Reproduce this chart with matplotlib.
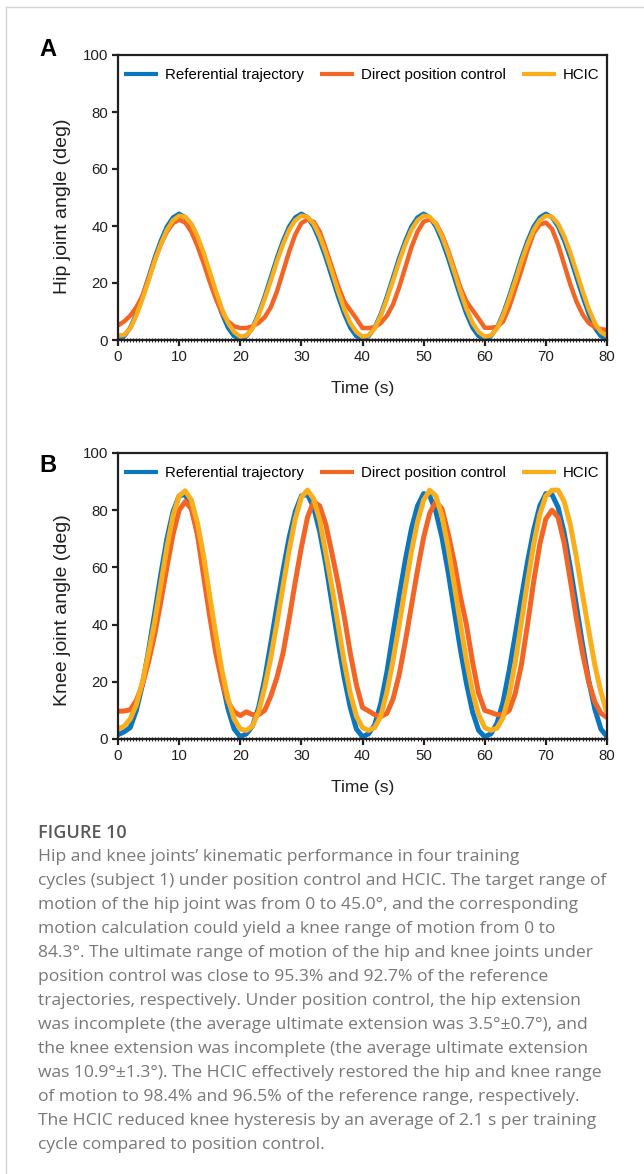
import matplotlib
matplotlib.use("Agg")
import matplotlib.pyplot as plt
from matplotlib.lines import Line2D
from matplotlib.ticker import MultipleLocator

# ---------------- data ----------------
time_s = list(range(0, 81))

hip_reference = [
    0.6, 1.3, 4.3, 9.2, 15.3, 22.0, 28.8, 34.8, 39.8, 43.0, 44.3, 43.0, 39.8, 34.8, 28.8, 22.0, 15.3, 9.2, 4.3, 1.3,
    0.6, 1.3, 4.3, 9.2, 15.3, 22.0, 28.8, 34.8, 39.8, 43.0, 44.3, 43.0, 39.8, 34.8, 28.8, 22.0, 15.3, 9.2, 4.3, 1.3,
    0.6, 1.3, 4.3, 9.2, 15.3, 22.0, 28.8, 34.8, 39.8, 43.0, 44.3, 43.0, 39.8, 34.8, 28.8, 22.0, 15.3, 9.2, 4.3, 1.3,
    0.6, 1.3, 4.3, 9.2, 15.3, 22.0, 28.8, 34.8, 39.8, 43.0, 44.3, 43.0, 39.8, 34.8, 28.8, 22.0, 15.3, 9.2, 4.3, 1.3,
    0.6]
hip_direct = [
    5.1, 6.5, 8.5, 11.5, 15.5, 21.5, 28.0, 33.5, 38.0, 41.0, 42.2, 41.2, 38.0, 33.0, 27.0, 20.5, 14.5, 9.5, 6.5, 4.8,
    4.2, 4.2, 4.8, 6.0, 8.0, 11.5, 17.0, 24.0, 31.0, 37.0, 41.0, 42.3, 41.5, 38.0, 32.0, 25.5, 19.0, 13.5, 10.5, 7.5,
    4.2, 4.2, 4.5, 6.0, 8.5, 12.5, 18.5, 25.5, 32.5, 38.0, 41.5, 42.3, 41.0, 37.0, 31.5, 25.0, 18.5, 13.5, 10.5, 7.5,
    4.3, 4.3, 4.6, 6.5, 11.5, 18.0, 24.5, 31.5, 37.5, 40.5, 41.2, 39.0, 33.5, 26.5, 19.5, 13.5, 9.0, 6.0, 4.5, 3.8,
    3.5]
hip_hcic = [
    1.5, 1.8, 4.0, 8.6, 14.4, 20.8, 27.6, 33.6, 38.6, 42.0, 43.6, 43.2, 40.8, 36.4, 30.6, 24.0, 17.2, 11.0, 6.0, 2.8,
    1.2, 1.6, 4.0, 8.6, 14.4, 20.8, 27.6, 33.6, 38.6, 42.0, 43.6, 43.2, 40.8, 36.4, 30.6, 24.0, 17.2, 11.0, 6.0, 2.8,
    1.2, 1.6, 4.0, 8.6, 14.4, 20.8, 27.6, 33.6, 38.6, 42.0, 43.6, 43.2, 40.8, 36.4, 30.6, 24.0, 17.2, 11.0, 6.0, 2.8,
    1.2, 1.6, 4.0, 8.6, 14.4, 20.8, 27.6, 33.6, 38.6, 42.0, 43.6, 43.2, 40.8, 36.4, 30.6, 24.0, 17.2, 11.0, 6.0, 2.8,
    1.4]

knee_reference = [
    1.5, 2.5, 4.0, 10.0, 19.0, 31.0, 44.0, 57.5, 70.0, 79.5, 85.0, 85.5, 81.0, 72.0, 60.0, 46.5, 33.0, 20.5, 10.5, 3.5,
    0.8, 1.8, 4.5, 11.0, 21.0, 33.5, 46.5, 59.0, 70.5, 79.5, 85.0, 85.5, 81.0, 72.5, 61.0, 47.5, 34.0, 21.5, 11.0, 3.5,
    0.8, 1.8, 5.0, 12.5, 23.5, 37.0, 50.0, 62.5, 73.5, 81.5, 85.8, 85.0, 79.5, 70.5, 58.5, 45.0, 31.5, 19.5, 9.5, 3.0,
    0.8, 1.8, 5.5, 13.0, 24.0, 36.5, 49.5, 62.0, 73.0, 81.5, 85.8, 85.5, 81.0, 72.0, 60.0, 46.5, 33.0, 20.5, 10.5, 3.5,
    0.8]
knee_direct = [
    9.7, 9.8, 10.2, 13.5, 19.0, 27.0, 36.5, 48.0, 60.0, 71.5, 80.0, 83.0, 80.5, 71.5, 57.0, 43.0, 30.0, 20.0, 13.0, 9.5,
    8.2, 9.5, 8.5, 8.5, 10.0, 15.0, 21.5, 30.0, 42.0, 55.0, 67.0, 77.5, 83.0, 81.5, 75.0, 65.0, 54.5, 43.0, 30.0, 19.0,
    11.0, 9.8, 8.5, 7.8, 9.0, 14.0, 22.5, 34.0, 46.5, 59.0, 70.5, 79.0, 83.0, 80.5, 72.0, 62.0, 50.0, 40.0, 27.0, 16.0,
    10.0, 9.3, 8.5, 8.5, 10.0, 16.0, 26.0, 40.0, 55.0, 68.0, 77.0, 80.0, 77.5, 68.5, 55.5, 42.0, 30.0, 20.0, 13.0, 9.0,
    7.5]
knee_hcic = [
    3.5, 4.5, 7.0, 12.0, 20.0, 30.0, 41.0, 54.0, 67.0, 78.0, 85.0, 86.8, 83.5, 75.5, 64.0, 50.0, 36.5, 24.0, 14.0, 7.0,
    3.5, 3.0, 4.5, 9.5, 18.0, 28.5, 40.5, 53.5, 66.0, 77.0, 84.5, 87.0, 84.0, 76.5, 65.0, 53.0, 40.0, 27.0, 16.0, 8.0,
    4.0, 3.0, 4.0, 8.0, 16.5, 27.5, 40.0, 53.0, 65.5, 76.0, 83.5, 87.0, 85.0, 78.0, 67.0, 54.0, 40.5, 27.5, 16.5, 8.5,
    4.0, 3.0, 3.8, 7.5, 15.5, 27.0, 41.0, 55.0, 68.0, 78.5, 85.0, 87.0, 87.0, 83.0, 75.0, 63.5, 50.5, 38.0, 26.0, 16.5,
    9.0]

series_names = ["Referential trajectory", "Direct position control", "HCIC"]
x_ticks = [0, 10, 20, 30, 40, 50, 60, 70, 80]
y_ticks = [0, 20, 40, 60, 80, 100]

caption_title = "FIGURE 10"
caption_lines = [
    "Hip and knee joints\u2019 kinematic performance in four training",
    "cycles (subject 1) under position control and HCIC. The target range of",
    "motion of the hip joint was from 0 to 45.0\u00b0, and the corresponding",
    "motion calculation could yield a knee range of motion from 0 to",
    "84.3\u00b0. The ultimate range of motion of the hip and knee joints under",
    "position control was close to 95.3% and 92.7% of the reference",
    "trajectories, respectively. Under position control, the hip extension",
    "was incomplete (the average ultimate extension was 3.5\u00b0\u00b10.7\u00b0), and",
    "the knee extension was incomplete (the average ultimate extension",
    "was 10.9\u00b0\u00b11.3\u00b0). The HCIC effectively restored the hip and knee range",
    "of motion to 98.4% and 96.5% of the reference range, respectively.",
    "The HCIC reduced knee hysteresis by an average of 2.1 s per training",
    "cycle compared to position control.",
]

# ---------------- style ----------------
C_BLUE = "#0b76c0"
C_ORANGE = "#f26524"
C_YELLOW = "#fbae1b"
C_AX = "#231f20"
REG = ["Liberation Sans", "DejaVu Sans"]
CAP = ["Open Sans", "DejaVu Sans"]

W, H = 644, 1174
fig = plt.figure(figsize=(W / 100, H / 100), dpi=100)
fig.patch.set_facecolor("white")


def px_axes(left, top, right, bottom):
    return fig.add_axes([left / W, 1 - bottom / H, (right - left) / W, (bottom - top) / H])


def draw_panel(ax, ref, direct, hcic, ylabel, lw, ylab_y):
    ax.plot(time_s, ref, color=C_BLUE, lw=lw, solid_capstyle="butt", solid_joinstyle="round",
            label=series_names[0], zorder=3)
    ax.plot(time_s, direct, color=C_ORANGE, lw=lw, solid_capstyle="butt", solid_joinstyle="round",
            label=series_names[1], zorder=4)
    ax.plot(time_s, hcic, color=C_YELLOW, lw=lw, solid_capstyle="butt", solid_joinstyle="round",
            label=series_names[2], zorder=5)
    ax.set_xlim(0, 80)
    ax.set_ylim(0, 100)
    ax.set_xticks(x_ticks)
    ax.set_yticks(y_ticks)
    ax.xaxis.set_minor_locator(MultipleLocator(0.5))
    for s in ax.spines.values():
        s.set_linewidth(1.6)
        s.set_color(C_AX)
        s.set_zorder(6)
    ax.tick_params(which="major", direction="out", length=4.5, width=1.6, color=C_AX,
                   pad=2.5, labelsize=10.8, labelcolor="#231f20")
    ax.tick_params(axis="x", which="minor", direction="inout", length=2.5, width=0.8, color=C_AX)
    for lab in ax.get_xticklabels() + ax.get_yticklabels():
        lab.set_family(REG)
    ax.set_ylabel(ylabel, family=REG, fontsize=14, color="#231f20")
    ax.yaxis.set_label_coords(-0.097, ylab_y)
    ax.set_xlabel("Time (s)", family=REG, fontsize=12.5, color="#231f20")
    ax.xaxis.label.set_va("center")
    ax.xaxis.set_label_coords(0.5, -48 / 285)
    leg = ax.legend(loc="center left", bbox_to_anchor=(0.012, 0.93), ncol=3, frameon=False,
                    borderpad=0, borderaxespad=0, handlelength=2.3, handletextpad=0.45,
                    columnspacing=1.05, prop={"family": REG, "size": 10.8})
    for h in leg.get_lines():
        h.set_linewidth(3.0)


axA = px_axes(118, 55, 607, 340)
draw_panel(axA, hip_reference, hip_direct, hip_hcic, "Hip joint angle (deg)", 3.2, 0.47)
axB = px_axes(118, 453, 607, 739)
draw_panel(axB, knee_reference, knee_direct, knee_hcic, "Knee joint angle (deg)", 3.6, 0.45)

fig.text(39 / W, 1 - 50 / H, "A", family=REG, fontsize=17, fontweight="bold", ha="left", va="center")
fig.text(39 / W, 1 - 466 / H, "B", family=REG, fontsize=17, fontweight="bold", ha="left", va="center")

# caption
fig.text(38 / W, 1 - 833 / H, caption_title, family=CAP, fontsize=13,
         fontweight="semibold", color="#58595b", ha="left", va="center")
for i, line in enumerate(caption_lines):
    fig.text(38 / W, 1 - (857 + 24 * i) / H, line, family=CAP,
             fontsize=12.6, color="#77787b", ha="left", va="center")

# page frame (top and left edges)
fig.add_artist(Line2D([6 / W, 1], [1 - 7 / H, 1 - 7 / H], transform=fig.transFigure,
                      color="#d4d4d4", lw=1.0))
fig.add_artist(Line2D([6 / W, 6 / W], [0, 1 - 7 / H], transform=fig.transFigure,
                      color="#d4d4d4", lw=1.0))

fig.savefig("out.png", dpi=100, facecolor="white")
